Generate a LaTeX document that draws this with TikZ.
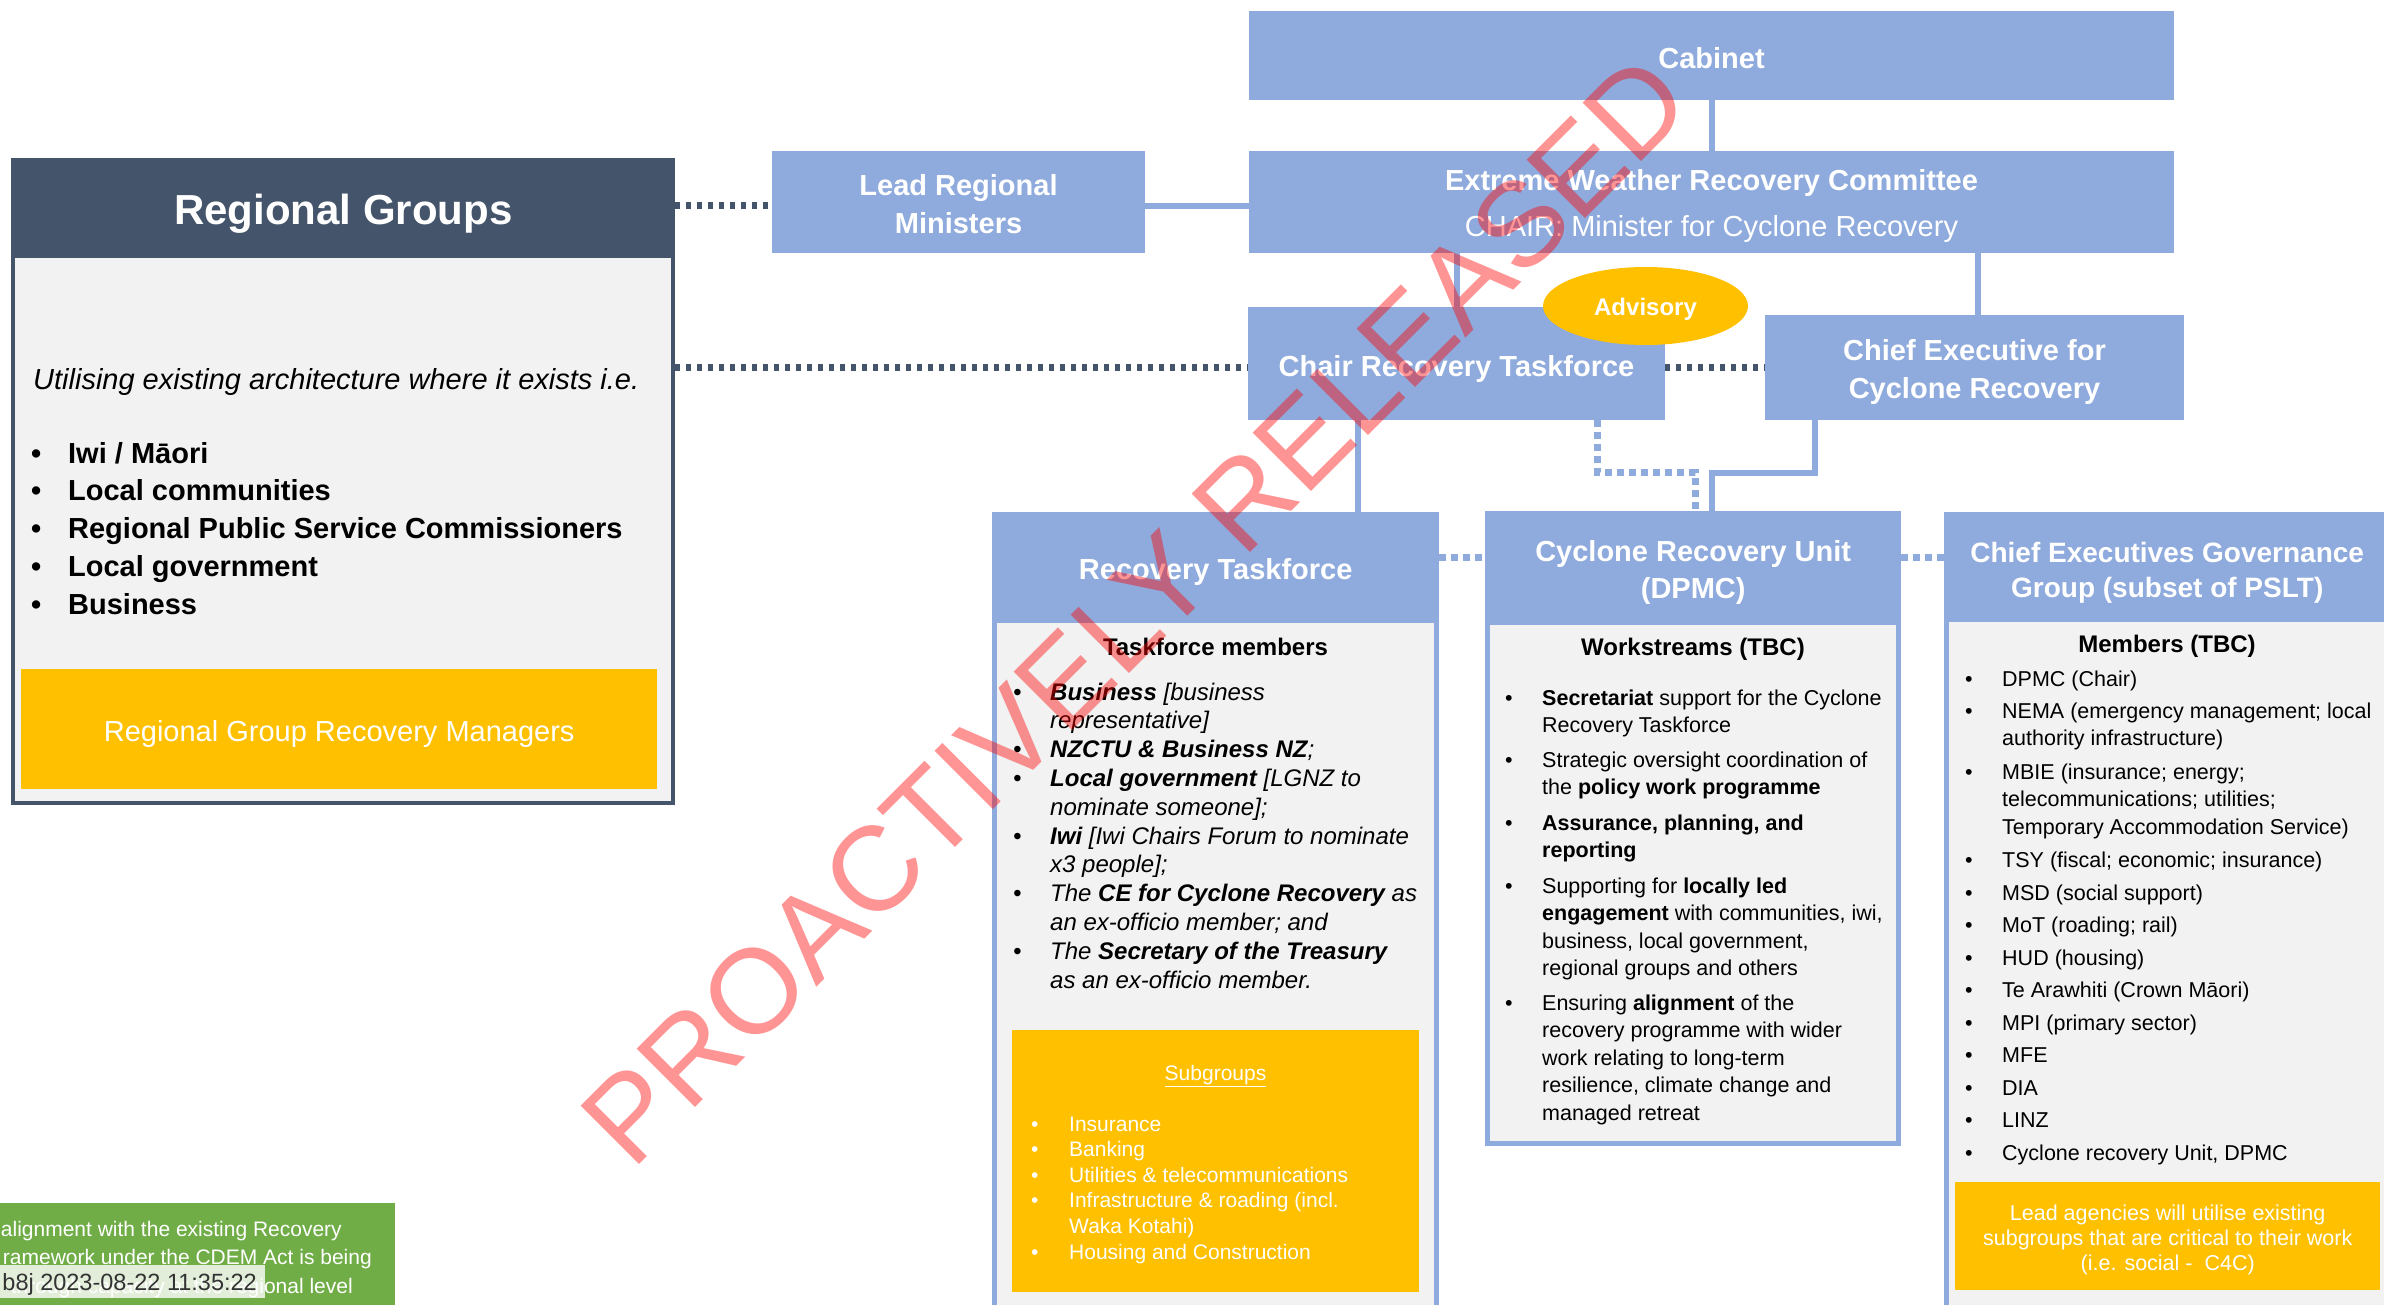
\documentclass[tikz,border=0pt]{standalone}
\usepackage{fontspec}
\setmainfont{Liberation Sans}
\usetikzlibrary{shapes.geometric}
\definecolor{cblue}{HTML}{8FAADC}
\definecolor{cdark}{HTML}{44546A}
\definecolor{cgray}{HTML}{F2F2F2}
\definecolor{cyel}{HTML}{FFC000}
\definecolor{cgreen}{HTML}{70AD47}
\newcommand\fsz[2]{\fontsize{#1}{#2}\selectfont}
\newcommand\bul[1]{\hbox to #1pt{\textbullet\hfil}}
\newcommand\lns[1]{\vtop{\halign{##\hfil\cr#1\crcr}}}
\tikzset{
  bluebox/.style={fill=cblue, inner sep=0},
  bt/.style={inner sep=0, text=white, font=\fsz{29}{38}\bfseries, align=center},
  hdr/.style={fill=cblue, inner sep=0, anchor=north west},
  panel/.style={fill=cgray, draw=cblue, line width=5pt, anchor=north west, inner sep=0},
  yelbox/.style={fill=cyel, anchor=north west, inner sep=0},
  bline/.style={draw=cblue, line width=6pt},
  bdot/.style={draw=cblue, line width=7pt, dash pattern=on 7pt off 5pt},
  ddot/.style={draw=cdark, line width=7pt, dash pattern=on 5pt off 6pt},
  itm/.style={anchor=base west, inner sep=0},
  ctr/.style={anchor=base, inner sep=0},
}
\begin{document}
\begin{tikzpicture}[x=1pt, y=-1pt]
\useasboundingbox (0,0) rectangle (2384,1305);
\fill[white] (0,0) rectangle (2384,1305);

% ---------- Regional Groups ----------
\node[draw=cdark, line width=4pt, fill=cgray, anchor=north west, inner sep=0,
      minimum width=660pt, minimum height=643pt] (rg) at (11,158) {};
\node[fill=cdark, anchor=north west, inner sep=0, minimum width=664pt, minimum height=100pt,
      label={[bt, font=\fsz{42}{48}\bfseries, yshift=-6pt]center:{Regional Groups}}] (rgh) at (11,158) {};
\node[itm, font=\fsz{29}{35}\itshape] (rgi) at (33,389) {Utilising existing architecture where it exists i.e.};
\node[itm, font=\fsz{29}{37.8}\bfseries] (rgl) at (31,463)
  {\lns{\bul{37}Iwi / Māori\cr \bul{37}Local communities\cr \bul{37}Regional Public Service Commissioners\cr \bul{37}Local government\cr \bul{37}Business}};
\node[yelbox, minimum width=636pt, minimum height=120pt,
      label={[bt, font=\fsz{29}{35}, yshift=-4.5pt]center:{Regional Group Recovery Managers}}] (rgm) at (21,669) {};

% ---------- top boxes ----------
\node[bluebox, minimum width=925pt, minimum height=89pt,
      label={[bt, yshift=-3pt]center:{Cabinet}}] (cab) at (1711.5,55.5) {};
\node[bluebox, minimum width=373pt, minimum height=102pt,
      label={[bt, yshift=-2pt]center:{Lead Regional\\Ministers}}] (lrm) at (958.5,202) {};
\node[bluebox, minimum width=925pt, minimum height=102pt,
      label={[bt, yshift=-4pt]center:{Extreme Weather Recovery Committee\\[8pt]{\mdseries CHAIR: Minister for Cyclone Recovery}}}] (ewrc) at (1711.5,202) {};
\node[bluebox, minimum width=417pt, minimum height=113pt,
      label={[bt, yshift=-6pt]center:{Chair Recovery Taskforce}}] (ctf) at (1456.5,363.5) {};
\node[bluebox, minimum width=419pt, minimum height=105pt,
      label={[bt, yshift=-4.5pt]center:{Chief Executive for\\Cyclone Recovery}}] (ce) at (1974.5,367.5) {};
\node[ellipse, fill=cyel, inner sep=0, minimum width=205pt, minimum height=78pt,
      label={[bt, font=\fsz{24}{28}\bfseries, yshift=-3pt]center:{Advisory}}] (adv) at (1645.5,306) {};

% ---------- connectors (top) ----------
\draw[bline] (cab.south) -- (ewrc.north);
\draw[bline] (lrm.east |- 0,206) -- (ewrc.west |- 0,206);
\draw[bline] (1457,0 |- ewrc.south) -- (1457,0 |- ctf.north);
\draw[bline] (1978,0 |- ewrc.south) -- (1978,0 |- ce.north);
\draw[ddot] (rg.east |- 0,206) -- (lrm.west |- 0,206);
\draw[ddot] (rg.east |- 0,367) -- (ctf.west |- 0,367);
\draw[ddot] (ctf.east |- 0,367) -- (ce.west |- 0,367);

% ---------- lower boxes ----------
\node[panel, minimum width=442pt, minimum height=900pt] (rtp) at (992,512) {};
\node[hdr, minimum width=447pt, minimum height=111pt,
      label={[bt, yshift=-4.5pt]center:{Recovery Taskforce}}] (rth) at (992,512) {};
\node[panel, minimum width=411pt, minimum height=630pt] (crup) at (1485,511) {};
\node[hdr, minimum width=416pt, minimum height=114pt,
      label={[bt, font=\fsz{29}{37}\bfseries, yshift=-4pt]center:{Cyclone Recovery Unit\\(DPMC)}}] (cruh) at (1485,511) {};
\node[panel, minimum width=500pt, minimum height=900pt] (cegp) at (1944,512) {};
\node[hdr, minimum width=446pt, minimum height=110pt,
      label={[bt, font=\fsz{28}{35}\bfseries, yshift=-6pt]center:{Chief Executives Governance\\Group (subset of PSLT)}}] (cegh) at (1944,512) {};

% ---------- connectors (lower) ----------
\draw[bline] (1358,0 |- ctf.south) -- (1358,0 |- rth.north);
\draw[bline, line join=miter] (1815,0 |- ce.south) |- (1712,473) -- (1712,0 |- cruh.north);
\draw[bdot] (1597,0 |- ctf.south) |- (1695,472) -- (1695,0 |- cruh.north);
\draw[bdot] (rth.east |- 0,557) -- (cruh.west |- 0,557);
\draw[bdot] (cruh.east |- 0,557) -- (cegh.west |- 0,557);

% ---------- Recovery Taskforce content ----------
\node[ctr, font=\fsz{24}{28}\bfseries] (rtm) at (1215.5,655) {Taskforce members};
\begin{scope}[every node/.style={itm, font=\fsz{24}{28.8}\itshape}]
\node (rt1) at (1013,700) {\bul{37}\lns{\textbf{Business} [business\cr representative]}};
\node (rt2) at (1013,757.6) {\bul{37}\lns{\textbf{NZCTU \& Business NZ};}};
\node (rt3) at (1013,786.4) {\bul{37}\lns{\textbf{Local government} [LGNZ to\cr nominate someone];}};
\node (rt4) at (1013,844) {\bul{37}\lns{\textbf{Iwi} [Iwi Chairs Forum to nominate\cr x3 people];}};
\node (rt5) at (1013,901.6) {\bul{37}\lns{The \textbf{CE for Cyclone Recovery} as\cr an ex-officio member; and}};
\node (rt6) at (1013,959.2) {\bul{37}\lns{The \textbf{Secretary of the Treasury}\cr as an ex-officio member.}};
\end{scope}
\node[yelbox, minimum width=407pt, minimum height=262pt] (sub) at (1012,1030) {};
\node[ctr, text=white, font=\fsz{21}{25}] (subt) at (1215.5,1080) {\underline{Subgroups}};
\begin{scope}[every node/.style={itm, text=white, font=\fsz{21}{25.6}}]
\node (sg1) at (1031,1131) {\bul{38}Insurance};
\node (sg2) at (1031,1156.6) {\bul{38}Banking};
\node (sg3) at (1031,1182.2) {\bul{38}Utilities \& telecommunications};
\node (sg4) at (1031,1207.8) {\bul{38}\lns{Infrastructure \& roading (incl.\cr Waka Kotahi)}};
\node (sg5) at (1031,1259) {\bul{38}Housing and Construction};
\end{scope}

% ---------- Cyclone Recovery Unit content ----------
\node[ctr, font=\fsz{24}{28}\bfseries] (wst) at (1693,655) {Workstreams (TBC)};
\begin{scope}[every node/.style={itm, font=\fsz{21.5}{27.5}}]
\node (cr1) at (1505,705) {\bul{37}\lns{\textbf{Secretariat} support for the Cyclone\cr Recovery Taskforce}};
\node (cr2) at (1505,767) {\bul{37}\lns{Strategic oversight coordination of\cr the \textbf{policy work programme}}};
\node (cr3) at (1505,830) {\bul{37}\lns{\textbf{Assurance, planning, and}\cr \textbf{reporting}}};
\node (cr4) at (1505,893) {\bul{37}\lns{Supporting for \textbf{locally led}\cr \textbf{engagement} with communities, iwi,\cr business, local government,\cr regional groups and others}};
\node (cr5) at (1505,1010) {\bul{37}\lns{Ensuring \textbf{alignment} of the\cr recovery programme with wider\cr work relating to long-term\cr resilience, climate change and\cr managed retreat}};
\end{scope}

% ---------- CE Governance Group content ----------
\node[ctr, font=\fsz{24}{28}\bfseries] (mem) at (2167,652) {Members (TBC)};
\begin{scope}[every node/.style={itm, font=\fsz{21.5}{27.5}}]
\node (cg1) at (1965,686) {\bul{37}DPMC (Chair)};
\node (cg2) at (1965,718) {\bul{37}\lns{NEMA (emergency management; local\cr authority infrastructure)}};
\node (cg3) at (1965,779) {\bul{37}\lns{MBIE (insurance; energy;\cr telecommunications; utilities;\cr Temporary Accommodation Service)}};
\node (cg4) at (1965,867) {\bul{37}TSY (fiscal; economic; insurance)};
\node (cg5) at (1965,900) {\bul{37}MSD (social support)};
\node (cg6) at (1965,932) {\bul{37}MoT (roading; rail)};
\node (cg7) at (1965,965) {\bul{37}HUD (housing)};
\node (cg8) at (1965,997) {\bul{37}Te Arawhiti (Crown Māori)};
\node (cg9) at (1965,1030) {\bul{37}MPI (primary sector)};
\node (cg10) at (1965,1062) {\bul{37}MFE};
\node (cg11) at (1965,1095) {\bul{37}DIA};
\node (cg12) at (1965,1127) {\bul{37}LINZ};
\node (cg13) at (1965,1160) {\bul{37}Cyclone recovery Unit, DPMC};
\end{scope}
\node[yelbox, minimum width=425pt, minimum height=108pt,
      label={[bt, font=\fsz{21.5}{25}, yshift=-4pt]center:{Lead agencies will utilise existing\\subgroups that are critical to their work\\(i.e. social -\ \ C4C)}}] (lead) at (1955,1182) {};

% ---------- green note ----------
\begin{scope}
\clip (0,1203) rectangle (395,1305);
\node[fill=cgreen, anchor=north west, inner sep=0, minimum width=395pt, minimum height=102pt] (note) at (0,1203) {};
\node[anchor=base east, inner sep=0, text=white, font=\fsz{21}{28}] (n1) at (342,1236) {alignment with the existing Recovery};
\node[anchor=base east, inner sep=0, text=white, font=\fsz{21}{28}] (n2) at (372,1264) {ramework under the CDEM Act is being};
\node[anchor=base east, inner sep=0, text=white, font=\fsz{21}{28}] (n3) at (353,1293) {through capacity at the regional level};
\node[fill=white, fill opacity=0.8, anchor=north west, inner sep=0, minimum width=265pt, minimum height=33pt] (ov) at (0,1265) {};
\node[anchor=base east, inner sep=0, text=black!80, font=\fsz{23.5}{28}] (stamp) at (257,1290) {b8j 2023-08-22 11:35:22};
\end{scope}

% ---------- watermark ----------
\node[rotate=45, inner sep=0, text=red, text opacity=0.42, font=\fsz{120}{120}] (wm) at (1135,610) {PROACTIVELY RELEASED};
\end{tikzpicture}
\end{document}
